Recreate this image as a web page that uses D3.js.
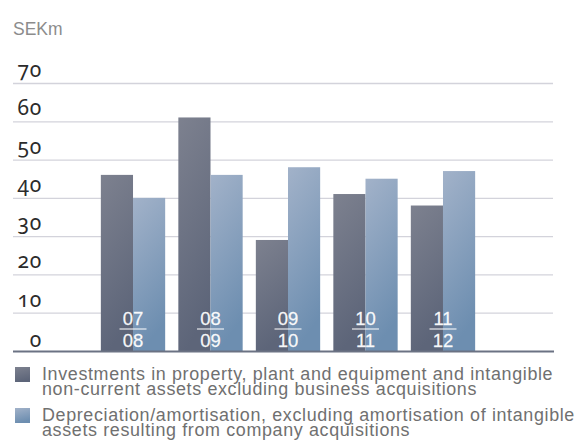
<!DOCTYPE html>
<html>
<head>
<meta charset="utf-8">
<script src="https://cdn.jsdelivr.net/npm/d3@7/dist/d3.min.js"></script>
<style>
  html, body { margin: 0; padding: 0; background: #ffffff; }
  svg { display: block; }
</style>
</head>
<body>
<svg id="chart" width="579" height="444"></svg>
<script>
const categories = ["07/08", "08/09", "09/10", "10/11", "11/12"];
const investments = [46, 61, 29, 41, 38];
const depreciation = [40, 46, 48, 45, 47];
const yTicks = [0, 10, 20, 30, 40, 50, 60, 70];
const unitLabel = "SEKm";
const legendLabels = [
  ["Investments in property, plant and equipment and intangible", "non-current assets excluding business acquisitions"],
  ["Depreciation/amortisation, excluding amortisation of intangible", "assets resulting from company acquisitions"]
];

const svg = d3.select("#chart");
const defs = svg.append("defs");

function grad(id, top, bottom) {
  const g = defs.append("linearGradient").attr("id", id)
    .attr("x1", "0").attr("y1", "0").attr("x2", "0.25").attr("y2", "1");
  g.append("stop").attr("offset", "0%").attr("stop-color", top);
  g.append("stop").attr("offset", "100%").attr("stop-color", bottom);
}
grad("gDark", "#7d818f", "#5d6579");
grad("gLight", "#a2b2c9", "#6d8eb0");

const x = d3.scaleBand().domain(categories).range([90, 486]).paddingInner(0.17).paddingOuter(0.14);
const x1 = d3.scaleBand().domain([0, 1]).range([0, x.bandwidth()]);
const y = d3.scaleLinear().domain([0, 70]).range([351, 83]);

// unit label
svg.append("text").attr("x", 13).attr("y", 35)
  .attr("font-family", "Liberation Sans, Arial, sans-serif").attr("font-size", 17.5)
  .attr("fill", "#8c8c8c").text(unitLabel);

// gridlines
svg.append("g").selectAll("line").data(yTicks.filter(d => d > 0)).join("line")
  .attr("x1", 13).attr("x2", 553)
  .attr("y1", d => y(d) + 0.5).attr("y2", d => y(d) + 0.5)
  .attr("stroke", "#d3d3db").attr("stroke-width", 1.3);

// y labels
svg.append("g").selectAll("text").data(yTicks).join("text")
  .attr("x", 42).attr("y", d => y(d) - (d === 0 ? 4 : 6))
  .attr("text-anchor", "end")
  .attr("font-family", "Noto Sans, sans-serif").attr("font-size", 21)
  .attr("letter-spacing", 0.8)
  .style("font-variant-numeric", "oldstyle-nums")
  .style("font-feature-settings", "'onum' 1")
  .attr("fill", "#2b2b2b").text(d => d);

// bars
const groups = svg.append("g").selectAll("g").data(categories).join("g")
  .attr("transform", d => `translate(${x(d)},0)`);

groups.append("rect")
  .attr("x", x1(0)).attr("width", x1.bandwidth())
  .attr("y", (d, i) => y(investments[i]))
  .attr("height", (d, i) => y(0) - y(investments[i]))
  .attr("fill", "url(#gDark)");

groups.append("rect")
  .attr("x", x1(1)).attr("width", x1.bandwidth())
  .attr("y", (d, i) => y(depreciation[i]))
  .attr("height", (d, i) => y(0) - y(depreciation[i]))
  .attr("fill", "url(#gLight)");

// fraction labels
const cx = x.bandwidth() / 2;
groups.append("text").attr("x", cx).attr("y", 325)
  .attr("text-anchor", "middle").attr("font-family", "Liberation Sans, Arial, sans-serif")
  .attr("font-size", 18.5).attr("fill", "#ffffff").attr("fill-opacity", 0.95)
  .attr("stroke", "#ffffff").attr("stroke-width", 0.3).attr("stroke-opacity", 0.8)
  .text(d => d.split("/")[0]);
groups.append("line").attr("x1", cx - 13.5).attr("x2", cx + 13.5)
  .attr("y1", 329).attr("y2", 329).attr("stroke", "#ffffff").attr("stroke-opacity", 0.85).attr("stroke-width", 1.2);
groups.append("text").attr("x", cx).attr("y", 346.5)
  .attr("text-anchor", "middle").attr("font-family", "Liberation Sans, Arial, sans-serif")
  .attr("font-size", 18.5).attr("fill", "#ffffff").attr("fill-opacity", 0.95)
  .attr("stroke", "#ffffff").attr("stroke-width", 0.3).attr("stroke-opacity", 0.8)
  .text(d => d.split("/")[1]);

// baseline
svg.append("line").attr("x1", 13).attr("x2", 554)
  .attr("y1", y(0) + 0.5).attr("y2", y(0) + 0.5)
  .attr("stroke", "#6b7283").attr("stroke-width", 2);

// legend: one common font size and letter-spacing fitted to the line widths
const legendFills = ["url(#gDark)", "url(#gLight)"];
const lineEnds = [[550, 478], [575, 412]];
const legendTop = [367, 408];
const textX = 42;
const F0 = 16;
const nodes = [];
legendLabels.forEach((lines, k) => {
  const g = svg.append("g");
  g.append("rect").attr("x", 15).attr("y", legendTop[k]).attr("width", 15).attr("height", 15)
    .attr("fill", legendFills[k]);
  lines.forEach((t, j) => {
    const tx = g.append("text").attr("x", textX).attr("y", legendTop[k] + 13 + j * 14.5)
      .attr("font-family", "Liberation Sans, Arial, sans-serif").attr("font-size", F0)
      .attr("fill", "#707070")
      .text(t);
    nodes.push({ tx, w: tx.node().getComputedTextLength(), m: t.length - 1, T: lineEnds[k][j] - textX });
  });
});
// least squares: T = a*w + ls*m
let sww = 0, swm = 0, smm = 0, swT = 0, smT = 0;
nodes.forEach(n => { sww += n.w * n.w; swm += n.w * n.m; smm += n.m * n.m; swT += n.w * n.T; smT += n.m * n.T; });
const det = sww * smm - swm * swm;
let a = (swT * smm - swm * smT) / det;
let ls = (sww * smT - swm * swT) / det;
a = Math.max(0.97, Math.min(1.12, a));
ls = nodes.reduce((s, n) => s + (n.T - a * n.w) * n.m, 0) / smm;
nodes.forEach(n => {
  n.tx.attr("font-size", (F0 * a).toFixed(2)).attr("letter-spacing", ls.toFixed(3));
});
</script>
</body>
</html>
